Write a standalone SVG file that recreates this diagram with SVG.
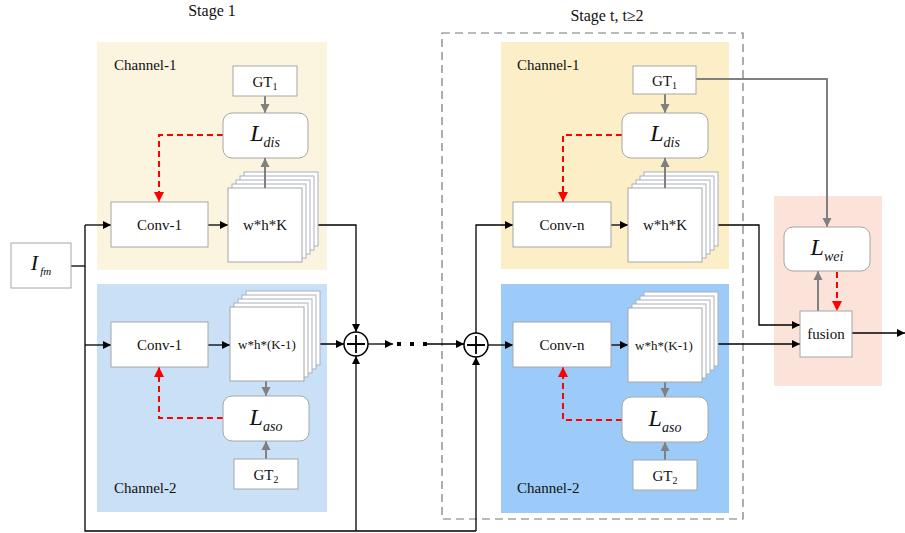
<svg xmlns="http://www.w3.org/2000/svg" xmlns:xlink="http://www.w3.org/1999/xlink" width="905" height="533" viewBox="0 0 905 533" font-family="'Liberation Serif', 'Times New Roman', serif">
<style>
text, tspan{font-family:"Liberation Serif","Times New Roman",serif;}
text{fill:#111;}
.box{fill:#fff;stroke:#a6a6a6;stroke-width:1;}
.lbl{font-size:15px;}
.ln{fill:none;stroke:#000;stroke-width:1.3;}
.gl{fill:none;stroke:#808080;stroke-width:2;}
.rd{fill:none;stroke:#ff0000;stroke-width:2;stroke-dasharray:6,4;}
.lay{fill:#fff;stroke:#a9b0bd;stroke-width:1;}
</style>
<defs>
<marker id="ab" viewBox="0 0 10 10" refX="10" refY="5" markerWidth="10" markerHeight="8" markerUnits="userSpaceOnUse" orient="auto"><path d="M0,0L10,5L0,10z" fill="#000"/></marker>
<marker id="ag" viewBox="0 0 10 10" refX="10" refY="5" markerWidth="9" markerHeight="10" markerUnits="userSpaceOnUse" orient="auto"><path d="M0,0L10,5L0,10z" fill="#808080"/></marker>
<marker id="ar" viewBox="0 0 10 10" refX="10" refY="5" markerWidth="10" markerHeight="11" markerUnits="userSpaceOnUse" orient="auto"><path d="M0,0L10,5L0,10z" fill="#ff0000"/></marker>
<g id="stk">
<rect class="lay" x="16" y="-16" width="74" height="74"/>
<rect class="lay" x="12" y="-12" width="74" height="74"/>
<rect class="lay" x="8" y="-8" width="74" height="74"/>
<rect class="lay" x="4" y="-4" width="74" height="74"/>
<rect class="box" x="0" y="0" width="74" height="74"/>
</g>
</defs>
<rect width="905" height="533" fill="#fff"/>

<g id="backgrounds">
<rect x="97" y="42" width="230" height="228" fill="#fbf4de"/>
<rect x="97" y="284" width="230" height="228" fill="#c9e0f7"/>
<rect x="501" y="42" width="228" height="227" fill="#fcefc8"/>
<rect x="501" y="284" width="228" height="229" fill="#9ccbfa"/>
<rect x="774" y="196" width="108" height="190" fill="#fce3da"/>
<rect x="442" y="33" width="301" height="486" fill="none" stroke="#777" stroke-width="1.2" stroke-dasharray="8,5"/>
</g>

<g id="titles">
<text x="212" y="16" text-anchor="middle" font-size="16">Stage 1</text>
<text x="607" y="21" text-anchor="middle" font-size="16">Stage t, t≥2</text>
<text x="114" y="70" class="lbl">Channel-1</text>
<text x="114" y="493" class="lbl">Channel-2</text>
<text x="517" y="70" class="lbl">Channel-1</text>
<text x="517" y="493" class="lbl">Channel-2</text>
</g>

<g id="connectors">
<polyline class="ln" points="71,266 85,266"/>
<polyline class="ln" points="85,225 85,531 476,531"/>
<polyline class="ln" points="85,225 111,225" marker-end="url(#ab)"/>
<polyline class="ln" points="85,345 111,345" marker-end="url(#ab)"/>
<polyline class="ln" points="208,225 228,225" marker-end="url(#ab)"/>
<polyline class="ln" points="208,345 230,345" marker-end="url(#ab)"/>
<polyline class="ln" points="302,225 356,225 356,332" marker-end="url(#ab)"/>
<polyline class="ln" points="303,344 344,344" marker-end="url(#ab)"/>
<polyline class="ln" points="356,531 356,356" marker-end="url(#ab)"/>
<polyline class="ln" points="368,344 393,344" marker-end="url(#ab)"/>
<rect x="397" y="342" width="4" height="4" fill="#000"/>
<rect x="410" y="342" width="4" height="4" fill="#000"/>
<rect x="423" y="342" width="4" height="4" fill="#000"/>
<polyline class="ln" points="427,344 464,344" marker-end="url(#ab)"/>
<polyline class="ln" points="476,531 476,357" marker-end="url(#ab)"/>
<polyline class="ln" points="476,333 476,225 513,225" marker-end="url(#ab)"/>
<polyline class="ln" points="488,345 513,345" marker-end="url(#ab)"/>
<polyline class="ln" points="611,225 628,225" marker-end="url(#ab)"/>
<polyline class="ln" points="611,345 628,345" marker-end="url(#ab)"/>
<polyline class="ln" points="702,225 759,225 759,325 800,325" marker-end="url(#ab)"/>
<polyline class="ln" points="700,344 800,344" marker-end="url(#ab)"/>
<polyline class="ln" points="852,333 905,333" marker-end="url(#ab)"/>
<polyline class="gl" points="265,96 265,113" marker-end="url(#ag)"/>
<polyline class="gl" points="266,381 266,396" marker-end="url(#ag)"/>
<polyline class="gl" points="266,459 266,441" marker-end="url(#ag)"/>
<polyline class="gl" points="665,94 665,113" marker-end="url(#ag)"/>
<polyline class="gl" points="665,381 665,397" marker-end="url(#ag)"/>
<polyline class="gl" points="665,460 665,442" marker-end="url(#ag)"/>
<polyline class="gl" points="696,79 827,79 827,227" marker-end="url(#ag)"/>
<polyline class="gl" points="818,311 818,271" marker-end="url(#ag)"/>
<polyline class="rd" points="223,135 159,135 159,202" marker-end="url(#ar)"/>
<polyline class="rd" points="223,418 159,418 159,367" marker-end="url(#ar)"/>
<polyline class="rd" points="622,135 563,135 563,202" marker-end="url(#ar)"/>
<polyline class="rd" points="622,420 563,420 563,367" marker-end="url(#ar)"/>
<polyline class="rd" points="837,272 837,311" marker-end="url(#ar)"/>
</g>

<g id="ifm">
<rect class="box" x="11" y="243" width="60" height="45" stroke="#777"/>
<text x="41" y="270" text-anchor="middle"><tspan font-style="italic" font-size="22">I</tspan><tspan font-style="italic" font-size="11" dy="5" dx="2">fm</tspan></text>
</g>

<g id="s1c1-gt">
<rect class="box" x="233" y="66" width="64" height="30"/>
<text x="265" y="87" text-anchor="middle" font-size="15">GT<tspan font-size="10" dy="3">1</tspan></text>
</g>
<g id="s1c1-loss">
<rect class="box" x="223" y="113" width="85" height="45" rx="9"/>
<text x="265" y="141" text-anchor="middle"><tspan font-style="italic" font-size="24">L</tspan><tspan font-style="italic" font-size="14" dy="6">dis</tspan></text>
</g>
<g id="s1c1-conv">
<rect class="box" x="111" y="202" width="97" height="45"/>
<text x="159.5" y="230" text-anchor="middle" class="lbl">Conv-1</text>
</g>
<g id="s1c1-feat">
<use xlink:href="#stk" x="228" y="188"/>
<polyline class="gl" points="265,188 265,158" marker-end="url(#ag)"/>
<text x="265" y="230" text-anchor="middle" class="lbl">w*h*K</text>
</g>

<g id="s1c2-conv">
<rect class="box" x="111" y="322" width="97" height="45"/>
<text x="159.5" y="350" text-anchor="middle" class="lbl">Conv-1</text>
</g>
<g id="s1c2-feat">
<use xlink:href="#stk" x="230" y="307"/>
<text x="267" y="349" text-anchor="middle" font-size="13">w*h*(K-1)</text>
</g>
<g id="s1c2-loss">
<rect class="box" x="223" y="396" width="86" height="45" rx="9"/>
<text x="266" y="425" text-anchor="middle"><tspan font-style="italic" font-size="24">L</tspan><tspan font-style="italic" font-size="14" dy="6">aso</tspan></text>
</g>
<g id="s1c2-gt">
<rect class="box" x="234" y="459" width="64" height="30"/>
<text x="266" y="480" text-anchor="middle" font-size="15">GT<tspan font-size="10" dy="3">2</tspan></text>
</g>

<g id="plus1">
<circle cx="356" cy="344" r="12" fill="#fff" stroke="#000" stroke-width="1.5"/>
<path d="M356,335V353M347,344H365" stroke="#000" stroke-width="1.8"/>
</g>
<g id="plus2">
<circle cx="476" cy="345" r="12" fill="#fff" stroke="#000" stroke-width="1.5"/>
<path d="M476,336V354M467,345H485" stroke="#000" stroke-width="1.8"/>
</g>

<g id="stc1-gt">
<rect class="box" x="633" y="66" width="63" height="28"/>
<text x="664.5" y="86" text-anchor="middle" font-size="15">GT<tspan font-size="10" dy="3">1</tspan></text>
</g>
<g id="stc1-loss">
<rect class="box" x="622" y="113" width="86" height="45" rx="9"/>
<text x="665" y="141" text-anchor="middle"><tspan font-style="italic" font-size="24">L</tspan><tspan font-style="italic" font-size="14" dy="6">dis</tspan></text>
</g>
<g id="stc1-conv">
<rect class="box" x="513" y="202" width="98" height="45"/>
<text x="562" y="230" text-anchor="middle" class="lbl">Conv-n</text>
</g>
<g id="stc1-feat">
<use xlink:href="#stk" x="628" y="188"/>
<polyline class="gl" points="665,188 665,158" marker-end="url(#ag)"/>
<text x="665" y="230" text-anchor="middle" class="lbl">w*h*K</text>
</g>

<g id="stc2-conv">
<rect class="box" x="513" y="322" width="98" height="45"/>
<text x="562" y="350" text-anchor="middle" class="lbl">Conv-n</text>
</g>
<g id="stc2-feat">
<use xlink:href="#stk" x="628" y="308"/>
<text x="664" y="350" text-anchor="middle" font-size="13">w*h*(K-1)</text>
</g>
<g id="stc2-loss">
<rect class="box" x="622" y="397" width="86" height="45" rx="9"/>
<text x="665" y="426" text-anchor="middle"><tspan font-style="italic" font-size="24">L</tspan><tspan font-style="italic" font-size="14" dy="6">aso</tspan></text>
</g>
<g id="stc2-gt">
<rect class="box" x="633" y="460" width="64" height="30"/>
<text x="665" y="481" text-anchor="middle" font-size="15">GT<tspan font-size="10" dy="3">2</tspan></text>
</g>

<g id="lwei">
<rect class="box" x="784" y="227" width="86" height="44" rx="9"/>
<text x="827" y="255" text-anchor="middle"><tspan font-style="italic" font-size="24">L</tspan><tspan font-style="italic" font-size="14" dy="6">wei</tspan></text>
</g>
<g id="fusion">
<rect class="box" x="800" y="311" width="52" height="46"/>
<text x="826" y="339" text-anchor="middle" class="lbl">fusion</text>
</g>
</svg>
